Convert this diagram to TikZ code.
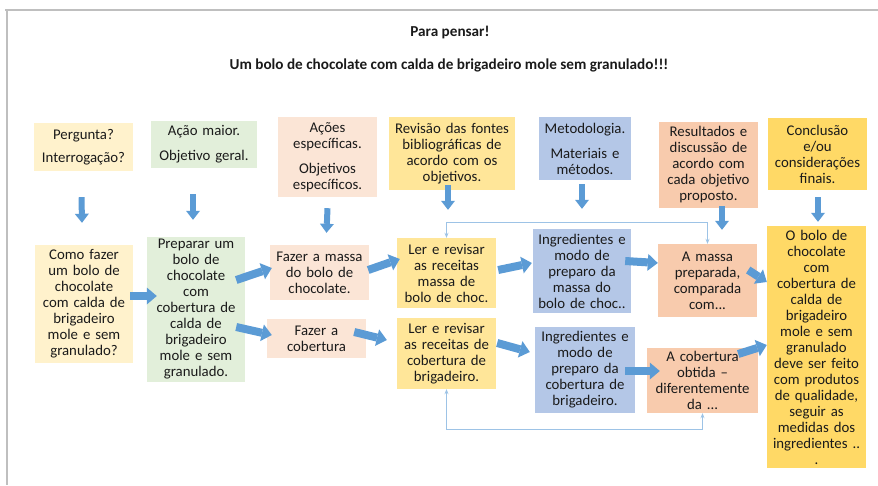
\documentclass[tikz,border=0pt]{standalone}
\usepackage{fontspec}
\setmainfont{Carlito}
\usetikzlibrary{arrows.meta,calc}
\definecolor{lyel}{HTML}{FFF2CC}
\definecolor{lgrn}{HTML}{E2EFDA}
\definecolor{lpnk}{HTML}{FBE5D6}
\definecolor{yelb}{HTML}{FFE699}
\definecolor{blub}{HTML}{B4C7E7}
\definecolor{orab}{HTML}{F8CBAD}
\definecolor{gold}{HTML}{FFD966}
\definecolor{arrblue}{HTML}{5B9BD5}
\definecolor{fbblue}{HTML}{9DC3E6}
\definecolor{frame}{HTML}{BFBFBF}
\definecolor{txt}{HTML}{1A1A1A}
\begin{document}
\begin{tikzpicture}[x=1pt,y=-1pt,
  bx/.style n args={3}{fill=#1,text width=#2,minimum width=#2,minimum height=#3,inner xsep=0pt,inner ysep=2pt,align=center,font=\fontsize{14.8}{16}\selectfont,text=txt},
  downarr/.style={draw=arrblue,line width=6pt,-{Triangle[width=14pt,length=9pt,line width=0pt]}},
  blockarr/.style={draw=arrblue,line width=8pt,-{Triangle[width=17pt,length=10pt,line width=0pt]}},
  fb/.style={draw=fbblue,line width=1pt,{Stealth[length=5pt,width=4pt]}-{Stealth[length=5pt,width=4pt]}},
  ttl/.style={font=\bfseries\fontsize{15.2}{17}\selectfont,text=txt,inner sep=0pt}]
\useasboundingbox (0,0) rectangle (878,485);
\fill[white] (0,0) rectangle (878,485);
\draw[frame,line width=1.5pt] (5,10) -- (878,10);
\draw[frame,line width=1.5pt] (7,10) -- (7,485);

\node[ttl] (t1) at (450,33) {Para pensar!};
\node[ttl] (t2) at (449,65) {Um bolo de chocolate com calda de brigadeiro mole sem granulado!!!};

% top row
\node[bx={lyel}{99pt}{48pt}] (q1) at (83.5,147) {Pergunta?\\[7pt]Interrogação?};
\node[bx={lgrn}{106pt}{47pt}] (q2) at (204,144.5) {Ação maior.\\[9pt]Objetivo geral.};
\node[bx={lpnk}{99pt}{80pt}] (q3) at (327.5,157) {Ações\\específicas.\\[9pt]Objetivos\\específicos.};
\node[bx={yelb}{126pt}{73pt}] (q4) at (452,153.5) {Revisão das fontes\\bibliográficas de\\acordo com os\\objetivos.};
\node[bx={blub}{92pt}{63pt}] (q5) at (585,148.5) {Metodologia.\\[9pt]Materiais e\\métodos.};
\node[bx={orab}{99pt}{86pt}] (q6) at (708.5,165) {Resultados e\\discussão de\\acordo com\\cada objetivo\\proposto.};
\node[bx={gold}{99pt}{72pt}] (q7) at (817.5,154) {Conclusão\\e/ou\\considerações\\finais.};

% second row
\node[bx={lyel}{98pt}{118pt}] (como) at (84,304) {Como fazer\\um bolo de\\chocolate\\com calda de\\brigadeiro\\mole e sem\\granulado?};
\node[bx={lgrn}{98pt}{145pt}] (prep) at (196,309.5) {Preparar um\\bolo de\\chocolate\\com\\cobertura de\\calda de\\brigadeiro\\mole e sem\\granulado.};
\node[bx={lpnk}{99pt}{55pt}] (fmassa) at (319.5,272.5) {Fazer a massa\\do bolo de\\chocolate.};
\node[bx={lpnk}{99pt}{39pt}] (fcob) at (316.5,338.5) {Fazer a\\cobertura};
\node[bx={yelb}{99pt}{70pt}] (lermassa) at (446.5,273) {Ler e revisar\\as receitas\\massa de\\bolo de choc.};
\node[bx={yelb}{99pt}{71pt}] (lercob) at (446.5,353.5) {Ler e revisar\\as receitas de\\cobertura de\\brigadeiro.};
\node[bx={blub}{98pt}{84pt}] (ingrmassa) at (582,271) {Ingredientes e\\modo de\\preparo da\\massa do\\bolo de choc..};
\node[bx={blub}{100pt}{86pt}] (ingrcob) at (585,370) {Ingredientes e\\modo de\\preparo da\\cobertura de\\brigadeiro.};
\node[bx={orab}{99pt}{73pt}] (amassa) at (707.5,280.5) {A massa\\preparada,\\comparada\\com...};
\node[bx={orab}{111pt}{65pt}] (cobob) at (702.5,380.5) {A cobertura\\obtida --\\diferentemente\\da ...};
\node[bx={gold}{99pt}{242pt}] (bolo) at (816.5,347) {O bolo de\\chocolate\\com\\cobertura de\\calda de\\brigadeiro\\mole e sem\\granulado\\deve ser feito\\com produtos\\de qualidade,\\seguir as\\medidas dos\\ingredientes ..\\.};

% down arrows
\draw[downarr] ($(q1.south)+(-2,26)$) -- ($(como.north)+(-2,-22)$);
\draw[downarr] ($(q2.south)+(-11,26)$) -- ($(prep.north)+(-3,-17)$);
\draw[downarr] ($(q3.south)+(0,11)$) -- ($(fmassa.north)+(7,-12)$);
\draw[downarr] ($(q4.south)+(-4,-5)$) -- ($(lermassa.north)+(1.5,-28)$);
\draw[downarr] ($(q5.south)+(-3,4)$) -- ($(ingrmassa.north)+(0,-20)$);
\draw[downarr] ($(q6.south)+(13.5,-2)$) -- ($(amassa.north)+(14.5,-14)$);
\draw[downarr] ($(q7.south)+(0.5,7)$) -- ($(bolo.north)+(1.5,-4)$);

% block arrows
\draw[blockarr] ($(como.east)+(-3,-8)$) -- ($(prep.west)+(10,-13.5)$);
\draw[blockarr] ($(prep.east)+(-9,-29.5)$) -- ($(fmassa.west)+(2,-4.5)$);
\draw[blockarr] ($(prep.east)+(-9,17.5)$) -- ($(fcob.west)+(5,-3.5)$);
\draw[blockarr] ($(fmassa.east)+(-1,-2.5)$) -- ($(lermassa.west)+(3,-14)$);
\draw[blockarr] ($(fcob.east)+(-12,-6.5)$) -- ($(lercob.west)+(-10,-13.5)$);
\draw[blockarr] ($(lermassa.east)+(2,-3)$) -- ($(ingrmassa.west)+(-1,-8)$);
\draw[blockarr] ($(lercob.east)+(1,-10.5)$) -- ($(ingrcob.west)+(-5,-18)$);
\draw[blockarr] ($(ingrmassa.east)+(-6,-10)$) -- ($(amassa.west)+(0,-17.5)$);
\draw[blockarr] ($(ingrcob.east)+(-10,1)$) -- ($(cobob.west)+(13,-9.5)$);
\draw[blockarr] ($(amassa.east)+(-9,-10.5)$) -- ($(bolo.west)+(0,-65)$);
\draw[blockarr] ($(cobob.east)+(-20,-26.5)$) -- ($(bolo.west)+(0,-2)$);

% feedback connectors
\coordinate (topfb) at (0,222);
\coordinate (botfb) at (0,429);
\draw[fb] (lermassa.north) -- (lermassa.north |- topfb) -- (amassa.north |- topfb) -- (amassa.north);
\draw[fb] (lercob.south) -- (lercob.south |- botfb) -- (cobob.south |- botfb) -- (cobob.south);
\end{tikzpicture}
\end{document}
